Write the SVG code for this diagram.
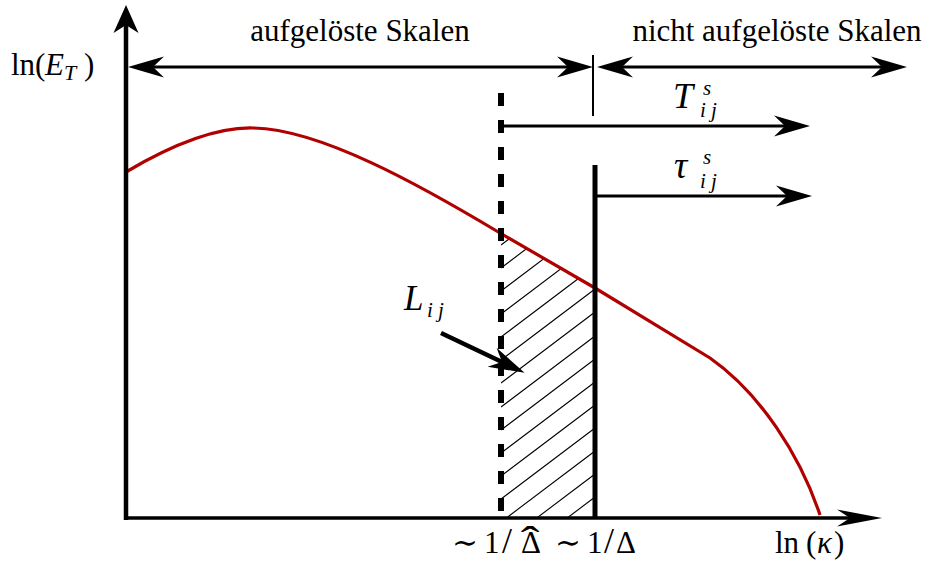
<svg xmlns="http://www.w3.org/2000/svg" width="929" height="572" viewBox="0 0 929 572">
<style>
.ln{stroke:#000;fill:none}
.t{font-family:'Liberation Serif','DejaVu Serif','Times New Roman',serif;fill:#000}
.i{font-style:italic}
.h{stroke:#000;stroke-width:1.1;fill:none}
</style>
<defs>
<marker id="arr" markerUnits="userSpaceOnUse" viewBox="-40 -14 44 28" refX="-25" refY="0" markerWidth="44" markerHeight="28" orient="auto-start-reverse">
<path d="M0,0 L-36,-10.5 L-25,0 L-36,10.5 Z" fill="#000"/>
</marker>
<marker id="arrY" markerUnits="userSpaceOnUse" viewBox="-32 -15 36 30" refX="-20" refY="0" markerWidth="36" markerHeight="30" orient="auto">
<path d="M0,0 L-28,-12.5 L-20,0 L-28,12.5 Z" fill="#000"/>
</marker>
<marker id="arrX" markerUnits="userSpaceOnUse" viewBox="-48 -12 52 24" refX="-32" refY="0" markerWidth="52" markerHeight="24" orient="auto">
<path d="M0,0 L-45,-8.5 L-32,0 L-45,8.5 Z" fill="#000"/>
</marker>
<clipPath id="hatchClip">
<path d="M501,518 L501,233 L595,288 L595,518 Z"/>
</clipPath>
</defs>
<rect width="929" height="572" fill="#fff"/>

<g id="hatch" clip-path="url(#hatchClip)">
<path class="h" d="M501,152 l94,-71 M501,175 l94,-71 M501,198 l94,-71 M501,222 l94,-71 M501,245 l94,-71 M501,268 l94,-71 M501,291 l94,-71 M501,314 l94,-71 M501,337 l94,-71 M501,360 l94,-71 M501,383 l94,-71 M501,407 l94,-71 M501,430 l94,-71 M501,453 l94,-71 M501,476 l94,-71 M501,499 l94,-71 M501,522 l94,-71 M501,545 l94,-71 M501,568 l94,-71 M501,591 l94,-71"/>
</g>

<g id="curve">
<path d="M126,172 C170,146 215,127 253,128 C320,129 420,185 500,233 L595,288 L710,358 C760,393 800,455 820,515" stroke="#b00000" stroke-width="3.2" fill="none"/>
</g>

<g id="connectors">
<line id="y-axis" class="ln" x1="126" y1="520" x2="126" y2="25" stroke-width="4.5" marker-end="url(#arrY)"/>
<line id="x-axis" class="ln" x1="124" y1="518" x2="850" y2="518" stroke-width="3.5" marker-end="url(#arrX)"/>
<line id="resolved" class="ln" x1="153" y1="67" x2="568" y2="67" stroke-width="3" marker-start="url(#arr)" marker-end="url(#arr)"/>
<line id="unresolved" class="ln" x1="622" y1="67" x2="882" y2="67" stroke-width="3" marker-start="url(#arr)" marker-end="url(#arr)"/>
<line id="separator" class="ln" x1="593" y1="55" x2="593" y2="116" stroke-width="2"/>
<line id="T-arrow" class="ln" x1="501" y1="126" x2="785" y2="126" stroke-width="3" marker-end="url(#arr)"/>
<line id="tau-arrow" class="ln" x1="595" y1="196" x2="787" y2="196" stroke-width="3" marker-end="url(#arr)"/>
<line id="delta-line" class="ln" x1="595" y1="165" x2="595" y2="518" stroke-width="5"/>
<line id="delta-hat-line" class="ln" x1="501" y1="93" x2="501" y2="518" stroke-width="6" stroke-dasharray="13 14"/>
<line id="L-arrow" class="ln" x1="441" y1="333" x2="502" y2="362" stroke-width="4.5" marker-end="url(#arr)"/>
</g>

<g id="label-resolved"><text class="t" x="360" y="41" font-size="31" text-anchor="middle">aufgelöste Skalen</text></g>
<g id="label-unresolved"><text class="t" x="777" y="41" font-size="31" text-anchor="middle">nicht aufgelöste Skalen</text></g>
<g id="label-yaxis"><text class="t" x="11" y="75" font-size="31">ln(<tspan class="i" x="45">E</tspan><tspan class="i" font-size="22" x="64" y="80">T</tspan><tspan x="84" y="75">)</tspan></text></g>
<g id="label-T"><text class="t i" x="673" y="108" font-size="36">T<tspan font-size="21" x="703" y="95">s</tspan><tspan font-size="21" x="700" y="117">i j</tspan></text></g>
<g id="label-tau"><text class="t i" x="674" y="178" font-size="37">τ<tspan font-size="21" x="703" y="164">s</tspan><tspan font-size="21" x="700" y="188">i j</tspan></text></g>
<g id="label-L"><text class="t i" x="404" y="310" font-size="35">L<tspan font-size="21" x="427" y="317">i j</tspan></text></g>
<g id="label-bottom">
<text class="t" x="452" y="553" font-size="31">∼<tspan x="484">1</tspan><tspan x="502" font-size="36">/</tspan><tspan x="521">Δ</tspan><tspan x="555">∼</tspan><tspan x="587">1</tspan><tspan x="604" font-size="36">/</tspan><tspan x="616">Δ</tspan></text>
<text class="t" x="530" y="554" font-size="40" text-anchor="middle" transform="translate(530 0) scale(1.4 1) translate(-530 0)">ˆ</text>
</g>
<g id="label-kappa"><text class="t" x="775" y="553" font-size="31">ln<tspan x="806">(</tspan><tspan class="i" x="817">κ</tspan><tspan x="834">)</tspan></text></g>
</svg>
